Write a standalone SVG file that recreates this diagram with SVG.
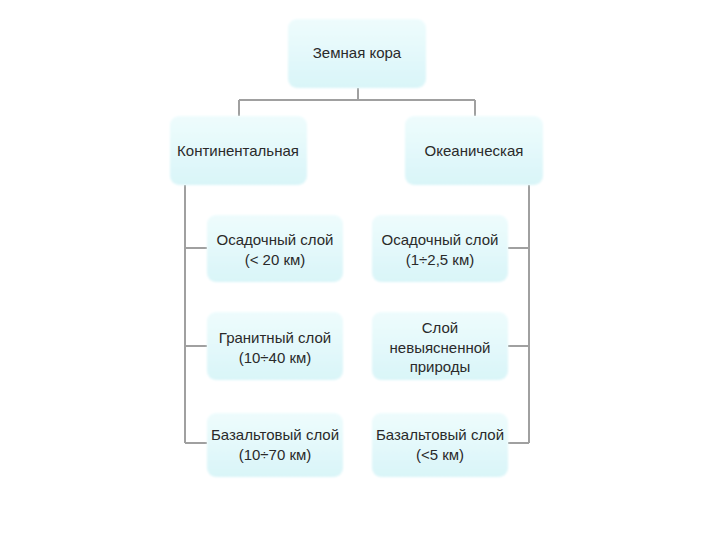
<svg xmlns="http://www.w3.org/2000/svg" width="720" height="540" viewBox="0 0 720 540">
<defs>
<linearGradient id="g" x1="0" y1="0" x2="0" y2="1">
<stop offset="0" stop-color="#eefcfd"/>
<stop offset="1" stop-color="#d9f5f8"/>
</linearGradient>
<filter id="soft" x="-10%" y="-10%" width="120%" height="120%"><feGaussianBlur stdDeviation="1.2"/></filter>
</defs>
<style>
.box{fill:url(#g);filter:url(#soft)}
text{font-family:"Liberation Sans",Arial,sans-serif;font-size:15px;fill:#2a2a2a;text-anchor:middle}
.c{stroke:#a0a0a0;stroke-width:2;fill:none}
</style>
<rect width="720" height="540" fill="#fff"/>
<g id="connectors">
<path class="c" d="M358 88V100M239 100H475M239 100V116M475 100V116"/>
<path class="c" d="M185 185V443M185 248H207M185 346H207M185 443H207"/>
<path class="c" d="M529 185V443M508 248H529M508 346H529M508 443H529"/>
</g>
<g id="root"><rect class="box" x="288" y="19" width="138" height="69" rx="9"/><text x="357" y="58">Земная кора</text></g>
<g id="cont"><rect class="box" x="170" y="116" width="137" height="69" rx="9"/><text x="238" y="156">Континентальная</text></g>
<g id="ocean"><rect class="box" x="405" y="116" width="138" height="69" rx="9"/><text x="474" y="156">Океаническая</text></g>
<g id="c1"><rect class="box" x="207" y="215" width="136" height="67" rx="9"/><text x="275" y="245">Осадочный слой</text><text x="275" y="265">(&lt; 20 км)</text></g>
<g id="c2"><rect class="box" x="207" y="312" width="136" height="68" rx="9"/><text x="275" y="343">Гранитный слой</text><text x="275" y="363">(10÷40 км)</text></g>
<g id="c3"><rect class="box" x="207" y="413" width="136" height="64" rx="9"/><text x="275" y="440">Базальтовый слой</text><text x="275" y="460">(10÷70 км)</text></g>
<g id="o1"><rect class="box" x="372" y="215" width="136" height="67" rx="9"/><text x="440" y="245">Осадочный слой</text><text x="440" y="265">(1÷2,5 км)</text></g>
<g id="o2"><rect class="box" x="372" y="312" width="136" height="68" rx="9"/><text x="440" y="333">Слой</text><text x="440" y="353">невыясненной</text><text x="440" y="372">природы</text></g>
<g id="o3"><rect class="box" x="372" y="413" width="136" height="64" rx="9"/><text x="440" y="440">Базальтовый слой</text><text x="440" y="460">(&lt;5 км)</text></g>
</svg>
